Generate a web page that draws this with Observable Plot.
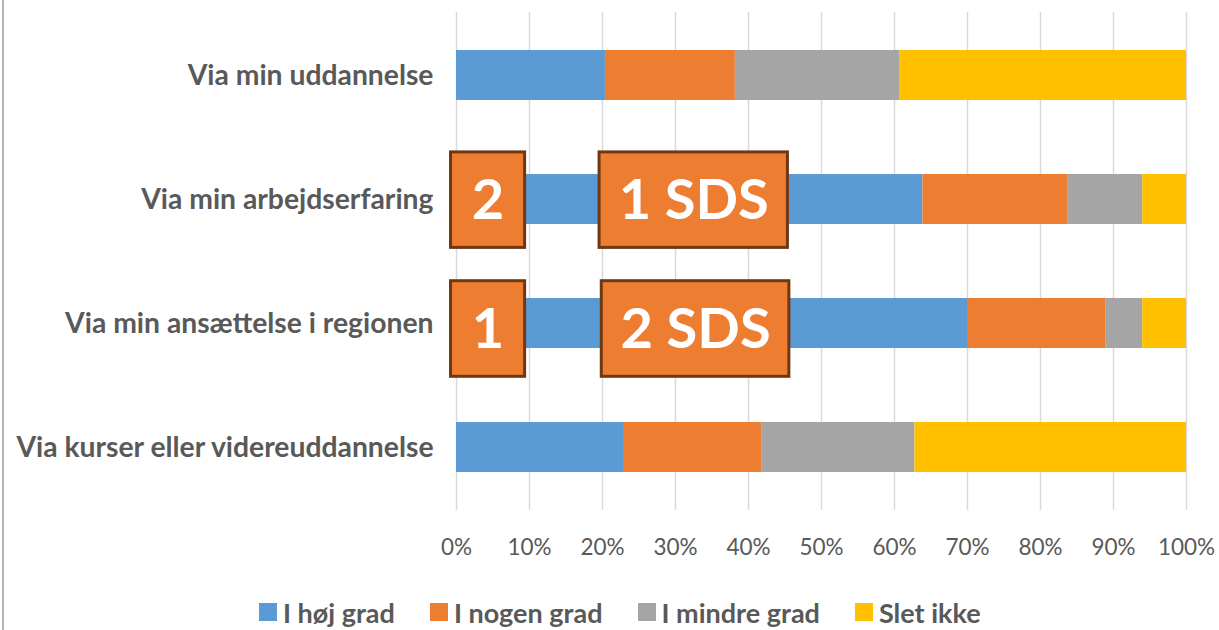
<!DOCTYPE html>
<html>
<head>
<meta charset="utf-8">
<script src="https://cdn.jsdelivr.net/npm/d3@7"></script>
<script src="https://cdn.jsdelivr.net/npm/@observablehq/plot@0.6"></script>
<style>
  html, body { margin: 0; padding: 0; background: #fff; }
  #wrap { position: relative; width: 1219px; height: 630px; overflow: hidden; font-family: Lato, "Open Sans", sans-serif; }
  #frame { position: absolute; left: 2px; top: 0; width: 2px; height: 630px; background: #b4b4b4; }
  #legend { display: flex; justify-content: flex-start; align-items: center; padding-left: 259px; height: 40px; margin-top: 12px;
            font-weight: 700; font-size: 27px; color: #595959; }
  .item { display: flex; align-items: center; margin-right: 35px; }
  .sw { width: 18px; height: 18px; margin-right: 6px; }
</style>
</head>
<body>
<div id="wrap"><div id="frame"></div><div id="chart"></div><div id="legend"></div></div>
<script>
const categories = ["Via min uddannelse", "Via min arbejdserfaring", "Via min ansættelse i regionen", "Via kurser eller videreuddannelse"];
const series = ["I høj grad", "I nogen grad", "I mindre grad", "Slet ikke"];
const hojGrad    = [20.4, 63.9, 70.0, 23.0];
const nogenGrad  = [17.8, 19.9, 19.0, 18.8];
const mindreGrad = [22.5, 10.2, 5.0, 21.0];
const sletIkke   = [39.3, 6.0, 6.0, 37.2];
const seriesColors = ["#5B9BD5", "#ED7D31", "#A5A5A5", "#FFC000"];
const xTicks = [0, 10, 20, 30, 40, 50, 60, 70, 80, 90, 100];

// overlay boxes (annotations), in data units
const boxCategory = ["Via min arbejdserfaring", "Via min arbejdserfaring", "Via min ansættelse i regionen", "Via min ansættelse i regionen"];
const boxLabel = ["2", "1 SDS", "1", "2 SDS"];
const boxFrom = [-0.75, 19.6, -0.75, 19.9];
const boxTo   = [9.4, 45.4, 9.4, 45.6];

const values = [hojGrad, nogenGrad, mindreGrad, sletIkke];
const data = [];
series.forEach((s, si) => categories.forEach((c, ci) => data.push({cat: c, series: s, value: values[si][ci]})));
const boxes = boxLabel.map((l, i) => ({cat: boxCategory[i], label: l, x1: boxFrom[i], x2: boxTo[i]}));
const row2 = boxes.filter(b => b.cat === categories[1]);
const row3 = boxes.filter(b => b.cat === categories[2]);

const chart = Plot.plot({
  width: 1219,
  height: 580,
  marginLeft: 456,
  marginRight: 33,
  marginTop: 12,
  marginBottom: 70,
  style: {fontFamily: "Lato, 'Open Sans', sans-serif", background: "transparent"},
  x: {domain: [0, 100]},
  y: {domain: categories, paddingInner: 0.6, paddingOuter: 0.3, label: null},
  color: {domain: series, range: seriesColors},
  marks: [
    Plot.gridX(xTicks, {stroke: "#d9d9d9", strokeOpacity: 1, strokeWidth: 1.5}),
    Plot.barX(data, Plot.stackX({x: "value", y: "cat", fill: "series", order: series})),
    Plot.axisX({ticks: xTicks, tickSize: 0, tickPadding: 29, tickFormat: d => d + "%", fontSize: 22.5, fill: "#595959", label: null}),
    Plot.axisY({tickSize: 0, tickPadding: 23, fontSize: 28.3, fontWeight: 700, fill: "#595959", label: null}),
    Plot.rect(row2, {x1: "x1", x2: "x2", y: "cat", insetTop: -22.1, insetBottom: -23.4, fill: "#ED7D31", stroke: "#6f3813", strokeWidth: 3}),
    Plot.rect(row3, {x1: "x1", x2: "x2", y: "cat", insetTop: -17.3, insetBottom: -28.3, fill: "#ED7D31", stroke: "#6f3813", strokeWidth: 3}),
    Plot.text(row2, {x: d => (d.x1 + d.x2) / 2, y: "cat", text: "label", dy: 2, fill: "white", fontSize: 56, fontWeight: 700}),
    Plot.text(row3, {x: d => (d.x1 + d.x2) / 2, y: "cat", text: "label", dy: 7, fill: "white", fontSize: 56, fontWeight: 700})
  ]
});
document.getElementById("chart").appendChild(chart);

const legend = document.getElementById("legend");
series.forEach((s, i) => {
  const item = document.createElement("div");
  item.className = "item";
  const sw = document.createElement("div");
  sw.className = "sw";
  sw.style.background = seriesColors[i];
  const t = document.createElement("span");
  t.textContent = s;
  item.appendChild(sw);
  item.appendChild(t);
  legend.appendChild(item);
});
</script>
</body>
</html>
